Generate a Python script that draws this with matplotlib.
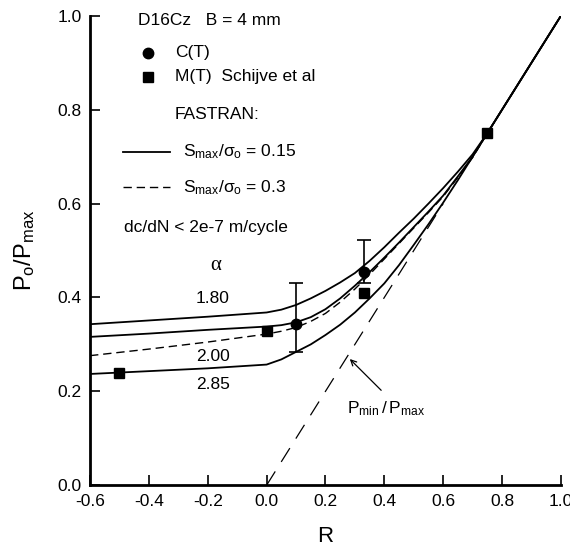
import matplotlib
matplotlib.use("Agg")
import matplotlib.pyplot as plt
from matplotlib import ticker

plt.rcParams['font.family'] = ['Liberation Sans', 'DejaVu Sans']
plt.rcParams['mathtext.fontset'] = 'custom'
plt.rcParams['mathtext.rm'] = 'Liberation Sans'
plt.rcParams['mathtext.it'] = 'Liberation Sans:italic'
plt.rcParams['mathtext.sf'] = 'Liberation Sans'
plt.rcParams['axes.unicode_minus'] = False

# FASTRAN curves, Smax/sigma_o = 0.15, alpha = 1.80
r_top = [-0.6, -0.4, -0.2, 0.0, 0.05, 0.1, 0.15, 0.2, 0.25, 0.3, 0.35, 0.4, 0.45,
         0.5, 0.55, 0.6, 0.65, 0.7, 0.75, 0.8, 1.0]
po_top = [0.343, 0.351, 0.359, 0.368, 0.374, 0.384, 0.398, 0.414, 0.432, 0.452, 0.478,
          0.507, 0.538, 0.568, 0.60, 0.633, 0.668, 0.705, 0.75, 0.8, 1.0]

# alpha = 2.00, Smax/sigma_o = 0.15
r_mid = [-0.6, -0.4, -0.2, 0.0, 0.05, 0.1, 0.15, 0.2, 0.25, 0.3, 0.35, 0.4, 0.45,
         0.5, 0.55, 0.6, 0.65, 0.7, 0.75, 0.8, 1.0]
po_mid = [0.316, 0.323, 0.331, 0.338, 0.341, 0.347, 0.358, 0.375, 0.398, 0.425, 0.454,
          0.485, 0.517, 0.55, 0.583, 0.617, 0.658, 0.70, 0.75, 0.8, 1.0]

# alpha = 2.00, Smax/sigma_o = 0.3 (dashed)
r_dash = [-0.6, -0.4, -0.2, 0.0, 0.05, 0.1, 0.15, 0.2, 0.25, 0.3, 0.35, 0.4, 0.45,
          0.5, 0.55, 0.6, 0.65, 0.7, 0.75, 0.8, 1.0]
po_dash = [0.276, 0.29, 0.305, 0.322, 0.328, 0.336, 0.349, 0.366, 0.39, 0.418, 0.449,
           0.482, 0.515, 0.548, 0.581, 0.615, 0.656, 0.698, 0.75, 0.8, 1.0]

# alpha = 2.85, Smax/sigma_o = 0.15
r_low = [-0.6, -0.4, -0.2, 0.0, 0.05, 0.1, 0.15, 0.2, 0.25, 0.3, 0.35, 0.4, 0.45,
         0.5, 0.55, 0.6, 0.65, 0.7, 0.75, 0.8, 1.0]
po_low = [0.237, 0.243, 0.249, 0.257, 0.268, 0.284, 0.30, 0.32, 0.342, 0.368, 0.398,
          0.43, 0.469, 0.512, 0.556, 0.602, 0.65, 0.70, 0.75, 0.8, 1.0]

# Pmin/Pmax line
r_ratio = [0.0, 0.6]
p_ratio = [0.0, 0.6]

# C(T) tests with scatter
r_ct = [0.1, 0.33]
po_ct = [0.344, 0.455]
err_lo = [0.06, 0.025]
err_hi = [0.087, 0.067]

# M(T) Schijve et al
r_mt = [-0.5, 0.0, 0.33, 0.75]
po_mt = [0.239, 0.328, 0.41, 0.751]

fig = plt.figure(figsize=(5.70, 5.47), dpi=100)
ax = fig.add_axes([0.158, 0.113, 0.826, 0.858])

ax.plot(r_top, po_top, 'k-', lw=1.3)
ax.plot(r_mid, po_mid, 'k-', lw=1.3)
ax.plot(r_dash, po_dash, 'k-', lw=1.0, dashes=(6, 3.5))
ax.plot(r_low, po_low, 'k-', lw=1.3)
ax.plot(r_ratio, p_ratio, 'k-', lw=0.9, dashes=(13, 9))

ax.errorbar(r_ct, po_ct, yerr=[err_lo, err_hi], fmt='o', color='k', ms=7.5,
            capsize=5, elinewidth=1.2, capthick=1.2)
ax.plot(r_mt, po_mt, 'ks', ms=6.5)

ax.set_xlim(-0.6, 1.0)
ax.set_ylim(0.0, 1.0)
ax.set_xticks([-0.6, -0.4, -0.2, 0.0, 0.2, 0.4, 0.6, 0.8, 1.0])
ax.set_yticks([0.0, 0.2, 0.4, 0.6, 0.8, 1.0])
ax.xaxis.set_major_formatter(ticker.StrMethodFormatter("{x:.1f}"))
ax.yaxis.set_major_formatter(ticker.StrMethodFormatter("{x:.1f}"))
ax.tick_params(direction='in', length=7, width=1.2, labelsize=12.5, pad=6)
ax.spines['top'].set_visible(False)
ax.spines['right'].set_visible(False)
ax.spines['left'].set_linewidth(2.0)
ax.spines['bottom'].set_linewidth(2.0)

ax.set_xlabel('R', fontsize=16)
ax.set_ylabel(r'$\mathrm{P_o/P_{max}}$', fontsize=17)
ax.xaxis.set_label_coords(0.5, -0.088)
ax.yaxis.set_label_coords(-0.113, 0.5)

# legend block, drawn by hand
fs = 12.5
ax.text(-0.437, 0.991, 'D16Cz   B = 4 mm', fontsize=fs, va='center')
ax.plot([-0.403], [0.921], 'ko', ms=7.5)
ax.text(-0.311, 0.921, 'C(T)', fontsize=fs, va='center')
ax.plot([-0.403], [0.870], 'ks', ms=6.5)
ax.text(-0.311, 0.870, 'M(T)  Schijve et al', fontsize=fs, va='center')
ax.text(-0.311, 0.789, 'FASTRAN:', fontsize=fs, va='center')
ax.plot([-0.487, -0.328], [0.710, 0.710], 'k-', lw=1.3)
ax.text(-0.283, 0.710, r'$\mathrm{S_{max}/\sigma_o}$ = 0.15', fontsize=fs, va='center')
ax.plot([-0.487, -0.328], [0.635, 0.635], 'k-', lw=1.0, dashes=(6, 3.5))
ax.text(-0.283, 0.635, r'$\mathrm{S_{max}/\sigma_o}$ = 0.3', fontsize=fs, va='center')
ax.text(-0.484, 0.550, 'dc/dN < 2e-7 m/cycle', fontsize=fs, va='center')

ax.text(-0.172, 0.469, 'α', fontsize=15, ha='center', va='center',
        family=['Liberation Serif'])
ax.text(-0.182, 0.397, '1.80', fontsize=fs, ha='center', va='center')
ax.text(-0.182, 0.275, '2.00', fontsize=fs, ha='center', va='center')
ax.text(-0.182, 0.215, '2.85', fontsize=fs, ha='center', va='center')

ax.annotate('', xy=(0.276, 0.273), xytext=(0.396, 0.198),
            arrowprops=dict(arrowstyle='->', color='k', lw=0.9))
ax.text(0.273, 0.164, r'$\mathrm{P_{min}\,/\,P_{max}}$', fontsize=fs, va='center')

plt.savefig('out.png', dpi=100)
